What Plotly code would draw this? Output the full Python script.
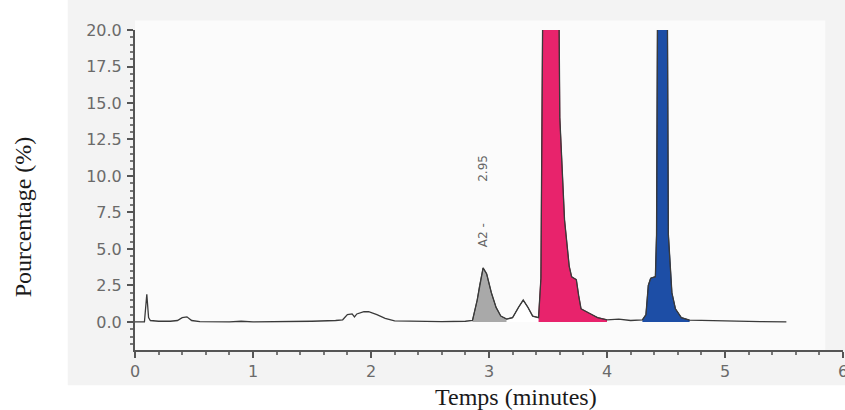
import plotly.graph_objects as go

# Chromatogram: retention time (minutes) vs relative signal (%)
time = [0.00, 0.08, 0.10, 0.115, 0.13, 0.20, 0.30, 0.36, 0.40, 0.44, 0.48, 0.55,
        0.80, 0.90, 1.00, 1.30, 1.50, 1.70, 1.76, 1.80, 1.84, 1.86, 1.88, 1.94,
        1.98, 2.05, 2.12, 2.20, 2.40, 2.60, 2.80, 2.86, 2.90, 2.92, 2.95, 2.98,
        3.02, 3.06, 3.10, 3.15, 3.20, 3.25, 3.29, 3.33, 3.37, 3.42, 3.44, 3.52,
        3.60, 3.64, 3.68, 3.70, 3.74, 3.76, 3.78, 3.85, 3.92, 4.00, 4.10, 4.20,
        4.30, 4.33, 4.35, 4.37, 4.41, 4.42, 4.47, 4.52, 4.55, 4.58, 4.63, 4.70,
        5.00, 5.30, 5.52]
signal = [0.00, 0.00, 1.90, 0.30, 0.10, 0.05, 0.05, 0.10, 0.30, 0.35, 0.10, 0.02,
          0.00, 0.05, 0.00, 0.02, 0.05, 0.10, 0.15, 0.50, 0.55, 0.35, 0.55, 0.70,
          0.70, 0.50, 0.25, 0.08, 0.05, 0.03, 0.05, 0.10, 1.50, 2.50, 3.70, 3.30,
          2.00, 1.00, 0.40, 0.20, 0.30, 1.00, 1.50, 1.00, 0.40, 0.30, 3.00, 100.0,
          14.0, 7.00, 3.80, 3.10, 2.90, 1.80, 0.90, 0.60, 0.30, 0.15, 0.20, 0.10,
          0.15, 0.50, 2.50, 3.00, 3.10, 6.00, 100.0, 6.00, 2.00, 0.90, 0.30, 0.12,
          0.05, 0.02, 0.00]

# Integrated peak windows (start, end) and their fill / edge colours
peak_windows = [(2.86, 3.15), (3.15, 3.42), (3.42, 4.00), (4.30, 4.70)]
peak_fills = ["#a9a9a9", "#ffffff", "#e8236c", "#1d4ea6"]
peak_edges = ["#444444", "#444444", "#a3123f", "#0f2f70"]

peak_name = "A2"
peak_rt = 2.95

y_ticks = [0.0, 2.5, 5.0, 7.5, 10.0, 12.5, 15.0, 17.5, 20.0]
x_ticks = [0, 1, 2, 3, 4, 5, 6]

fig = go.Figure()

for (t0, t1), fc, ec in zip(peak_windows, peak_fills, peak_edges):
    seg = [(t, s) for t, s in zip(time, signal) if t0 <= t <= t1]
    fig.add_trace(go.Scatter(
        x=[p[0] for p in seg], y=[p[1] for p in seg],
        mode="lines", fill="tozeroy", fillcolor=fc,
        line=dict(color=ec, width=1), hoverinfo="skip", showlegend=False))

fig.add_trace(go.Scatter(
    x=time, y=signal, mode="lines",
    line=dict(color="#3a3a3a", width=1.3), showlegend=False))

# peak label, written upward above the A2 peak
fig.add_annotation(x=peak_rt, y=10.5, text=f"{peak_rt:.2f}", textangle=-90,
                   showarrow=False, font=dict(family="DejaVu Sans", size=12, color="#666"))
fig.add_annotation(x=peak_rt, y=5.95, text=f"{peak_name} -", textangle=-90,
                   showarrow=False, font=dict(family="DejaVu Sans", size=12, color="#666"))

# axis titles
fig.add_annotation(xref="paper", yref="paper", x=0.538, y=-0.146, yanchor="middle",
                   text="Temps (minutes)", showarrow=False,
                   font=dict(family="Liberation Serif", size=24, color="#1a1a1a"))
fig.add_annotation(xref="paper", yref="paper", x=-0.159, y=0.416, xanchor="center",
                   yanchor="middle", text="Pourcentage (%)", textangle=-90, showarrow=False,
                   font=dict(family="Liberation Serif", size=24, color="#1a1a1a"))

# light grey backdrop behind the chart area
fig.add_shape(type="rect", xref="paper", yref="paper", x0=-0.095, x1=1.01,
              y0=-0.11, y1=1.094, fillcolor="#f3f3f3", line=dict(width=0), layer="below")
fig.add_shape(type="rect", xref="paper", yref="paper", x0=0, x1=0.975,
              y0=0.0, y1=1.03, fillcolor="#fbfbfb", line=dict(width=0), layer="below")

fig.update_xaxes(
    range=[0, 6], tickvals=x_ticks, ticktext=[str(v) for v in x_ticks],
    ticks="outside", ticklen=6, tickwidth=1.5, tickcolor="#555",
    minor=dict(dtick=0.2, ticks="outside", ticklen=3, tickcolor="#777"),
    showline=True, linecolor="#555", linewidth=2, showgrid=False, zeroline=False,
    ticklabelstandoff=0, ticklabeloverflow="allow", automargin=False,
    tickfont=dict(family="DejaVu Sans", size=16, color="#6a6a6a"))
fig.update_yaxes(
    range=[-1.92, 20], tickvals=y_ticks, ticktext=[f"{v:.1f}" for v in y_ticks],
    ticks="outside", ticklen=6, tickwidth=1.5, tickcolor="#555",
    minor=dict(dtick=0.5, tick0=0, ticks="outside", ticklen=3, tickcolor="#777"),
    showline=True, linecolor="#555", linewidth=2, showgrid=False, zeroline=False,
    ticklabelstandoff=2, automargin=False,
    tickfont=dict(family="DejaVu Sans", size=16, color="#6a6a6a"))

fig.update_layout(
    width=845, height=410,
    margin=dict(l=135, r=2, t=30, b=60),
    paper_bgcolor="white", plot_bgcolor="rgba(0,0,0,0)",
)

fig.write_html("out.html")
